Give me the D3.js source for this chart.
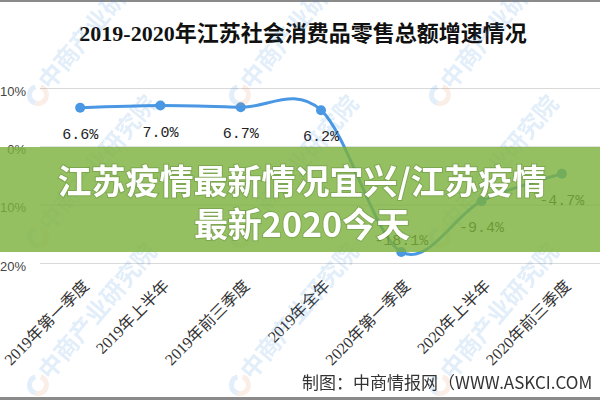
<!DOCTYPE html>
<html><head><meta charset="utf-8">
<script src="https://cdn.jsdelivr.net/npm/d3@7"></script>
<style>html,body{margin:0;padding:0;background:#fff;overflow:hidden}</style>
</head><body>
<svg id="chart" width="600" height="400"></svg>
<script>
const categories = ["2019年第一季度","2019年上半年","2019年前三季度","2019年全年","2020年第一季度","2020年上半年","2020年前三季度"];
const growth = [6.6, 7.0, 6.7, 6.2, -18.1, -9.4, -4.7];
const yTicks = [10, 0, -10, -20];
const title = "2019-2020年江苏社会消费品零售总额增速情况";
const bannerLines = ["江苏疫情最新情况宜兴/江苏疫情", "最新2020今天"];
const footer = "制图：中商情报网（WWW.ASKCI.COM";
const watermark = "中商产业研究院";

const svg = d3.select("#chart");
const W = 600, H = 400;

// borders
svg.append("rect").attr("x",0).attr("y",0).attr("width",W).attr("height",2).attr("fill","#8a8a8a");
svg.append("rect").attr("x",0).attr("y",397).attr("width",W).attr("height",3).attr("fill","#8a8a8a");

const x = d3.scaleBand().domain(categories).range([40, 602]);
const cx = d => x(d) + x.bandwidth()/2;
const y = d3.scaleLinear().domain([-20, 10]).range([263, 88]);

// title
svg.append("text").attr("x", 303).attr("y", 41).attr("text-anchor","middle")
  .attr("font-family","'Liberation Serif','Noto Sans CJK SC',serif").attr("font-weight","bold")
  .attr("font-size", 22).attr("fill","#111").text(title);

// gridlines + y labels
const yAxis = d3.axisLeft(y).tickValues(yTicks).tickSize(-560).tickFormat(d => d + "%");
const ga = svg.append("g").attr("transform","translate(40,0)").call(yAxis);
ga.select(".domain").remove();
ga.selectAll(".tick line").attr("stroke","#d9d9d9").attr("stroke-width",1.2);
ga.selectAll(".tick text").attr("x",-14).attr("dy","0.55em")
  .attr("font-family","'Liberation Sans',Arial,sans-serif").attr("font-size",13).attr("fill","#444");

// x labels
const xAxis = d3.axisBottom(x).tickSize(0);
const gx = svg.append("g").attr("transform","translate(0,283)").call(xAxis);
gx.select(".domain").remove();
gx.selectAll(".tick text")
  .attr("font-family","'Liberation Serif','Noto Sans CJK SC',serif").attr("font-size",16).attr("fill","#333")
  .attr("text-anchor","end").attr("dy","0.35em").attr("y",0).attr("x",0)
  .attr("transform","translate(6,0) rotate(-45)");

// line
const line = d3.line().x((d,i)=>cx(categories[i])).y(d=>y(d)).curve(d3.curveCardinal.tension(0));
svg.append("path").datum(growth).attr("d", line).attr("fill","none")
  .attr("stroke","#4a98e4").attr("stroke-width",3).attr("stroke-linecap","round");
svg.selectAll("circle.pt").data(growth).join("circle").attr("class","pt")
  .attr("cx",(d,i)=>cx(categories[i])).attr("cy",d=>y(d)).attr("r",5).attr("fill","#4a98e4");

const minV = d3.min(growth);
svg.selectAll("text.lbl").data(growth).join("text").attr("class","lbl")
  .attr("x",(d,i)=>cx(categories[i])).attr("y",d => d === minV ? y(d)-7 : y(d)+31)
  .attr("text-anchor","middle").attr("font-family","'Liberation Mono','DejaVu Sans Mono',monospace")
  .attr("font-size",15).attr("fill","#222").text(d => d.toFixed(1) + "%");

// watermarks
const wmPos = [];
[38, 240, 440].forEach(px => [95, 237, 385].forEach(py => wmPos.push([px, py])));
const wm = svg.append("g").attr("opacity",0.15);
wmPos.forEach(([px,py]) => {
  const g = wm.append("g").attr("transform",`translate(${px},${py})`);
  g.append("path").attr("d", d3.arc()({innerRadius:6,outerRadius:11,startAngle:Math.PI*0.1,endAngle:Math.PI*1.1})).attr("fill","#e08a5a");
  g.append("path").attr("d", d3.arc()({innerRadius:6,outerRadius:11,startAngle:Math.PI*1.1,endAngle:Math.PI*1.9})).attr("fill","#3c8ad8");
  g.append("text").attr("transform","translate(12,-4) rotate(-50)").attr("font-family","'Noto Sans CJK SC',sans-serif")
    .attr("font-size",24).attr("font-weight","bold").attr("fill","#3c8ad8").text(watermark);
});

// banner
svg.append("rect").attr("x",0).attr("y",147).attr("width",W).attr("height",105).attr("fill","rgba(125,178,62,0.82)");
svg.selectAll("text.ban").data(bannerLines).join("text").attr("class","ban")
  .attr("x",302).attr("y",(d,i)=>194 + i*43).attr("text-anchor","middle")
  .attr("font-family","'Noto Sans CJK SC',sans-serif").attr("font-weight","bold").attr("font-size",34)
  .attr("fill","#fff").style("paint-order","stroke").attr("stroke","rgba(60,90,30,0.25)").attr("stroke-width",2)
  .text(d=>d);

// footer
svg.append("text").attr("x",302).attr("y",389).attr("font-family","'Noto Sans CJK SC',sans-serif")
  .attr("font-size",17).attr("fill","#333").text(footer);
</script>
</body></html>
